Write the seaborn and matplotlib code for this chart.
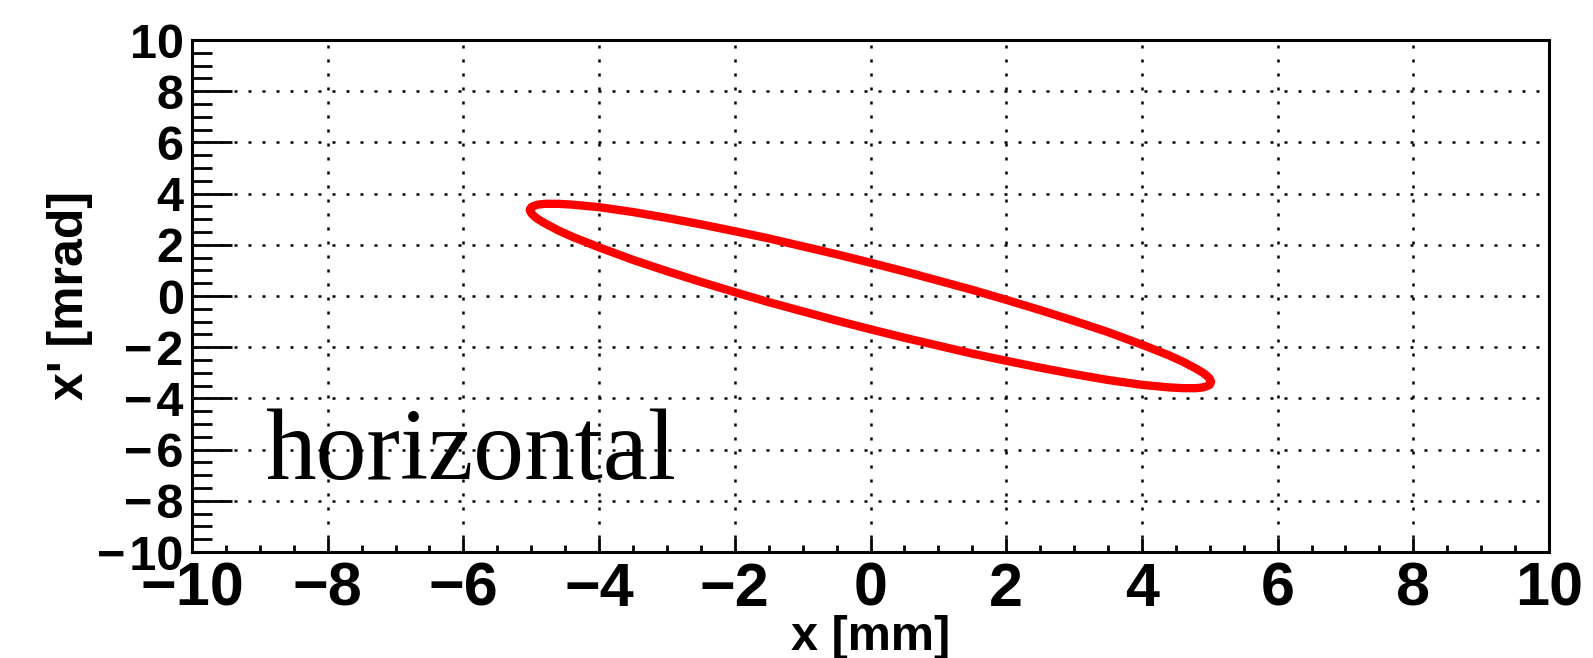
import matplotlib
matplotlib.use("Agg")
import matplotlib.pyplot as plt
import seaborn as sns
import pandas as pd
from matplotlib.ticker import MultipleLocator, FixedLocator, FixedFormatter

# ---- data ----
upper_x = [-5.02, -5.0, -4.95, -4.9, -4.8, -4.6, -4.4, -4.0, -3.5, -3.0, -2.5, -2.0, -1.5, -1.0, -0.5,
           0.0, 0.5, 1.0, 1.5, 2.0, 2.5, 3.0, 3.5, 4.0, 4.4, 4.6, 4.8, 4.9, 4.95, 5.0, 5.02]
upper_xp = [3.36, 3.47, 3.53, 3.57, 3.60, 3.60, 3.57, 3.47, 3.28, 3.05, 2.80, 2.53, 2.25, 1.94, 1.63,
            1.30, 0.96, 0.60, 0.24, -0.15, -0.55, -0.97, -1.41, -1.90, -2.32, -2.56, -2.84, -3.00, -3.10, -3.23, -3.36]
lower_x = [5.0, 4.95, 4.9, 4.8, 4.6, 4.4, 4.0, 3.5, 3.0, 2.5, 2.0, 1.5, 1.0, 0.5, 0.0,
           -0.5, -1.0, -1.5, -2.0, -2.5, -3.0, -3.5, -4.0, -4.4, -4.6, -4.8, -4.9, -4.95, -5.0, -5.02]
lower_xp = [-3.47, -3.53, -3.57, -3.60, -3.60, -3.57, -3.47, -3.28, -3.05, -2.80, -2.53, -2.25, -1.94, -1.63, -1.30,
            -0.96, -0.60, -0.24, 0.15, 0.55, 0.97, 1.41, 1.90, 2.32, 2.56, 2.84, 3.00, 3.10, 3.23, 3.36]

x_ticks = [-10, -8, -6, -4, -2, 0, 2, 4, 6, 8, 10]
x_tick_labels = ["\u221210", "\u22128", "\u22126", "\u22124", "\u22122", "0", "2", "4", "6", "8", "10"]
y_ticks = [-10, -8, -6, -4, -2, 0, 2, 4, 6, 8, 10]
y_tick_labels = ["\u2212\u200a10", "\u2212\u200a8", "\u2212\u200a6", "\u2212\u200a4", "\u2212\u200a2",
                 "0", "2", "4", "6", "8", "10"]
x_label = "x [mm]"
y_label = "x' [mrad]"
plane_label = "horizontal"

# ---- styling ----
sns.set_style("white")
plt.rcParams["font.family"] = ["Liberation Sans", "DejaVu Sans"]
plt.rcParams["axes.unicode_minus"] = True
for key in ["text.color", "axes.labelcolor", "xtick.color", "ytick.color"]:
    plt.rcParams[key] = "black"

fig = plt.figure(figsize=(15.93, 6.58), dpi=100)
ax = fig.add_axes([192 / 1593, 1 - 552 / 658, (1549 - 192) / 1593, (552 - 40) / 658])

df = pd.DataFrame({"x": upper_x + lower_x, "xp": upper_xp + lower_xp})
df["order"] = range(len(df))
sns.lineplot(data=df, x="x", y="xp", sort=False, estimator=None, color="#ff0000",
             linewidth=6.0, ax=ax, solid_joinstyle="round", solid_capstyle="round")

ax.set_xlim(-10, 10)
ax.set_ylim(-10, 10)

ax.xaxis.set_major_locator(FixedLocator(x_ticks))
ax.xaxis.set_major_formatter(FixedFormatter(x_tick_labels))
ax.yaxis.set_major_locator(FixedLocator(y_ticks))
ax.yaxis.set_major_formatter(FixedFormatter(y_tick_labels))
ax.xaxis.set_minor_locator(MultipleLocator(0.5))
ax.yaxis.set_minor_locator(MultipleLocator(0.5))

ax.tick_params(axis="x", which="major", direction="in", length=10, width=2.0, pad=7,
               labelsize=44, top=False, bottom=True, colors="black")
ax.tick_params(axis="x", which="minor", direction="in", length=5, width=2.0, top=False, bottom=True)
ax.tick_params(axis="y", which="major", direction="in", length=29, width=2.0, pad=6,
               labelsize=35, right=False, left=True, colors="black")
ax.tick_params(axis="y", which="minor", direction="in", length=14.5, width=2.0, right=False, left=True)
for lab in ax.get_xticklabels() + ax.get_yticklabels():
    lab.set_fontweight("bold")
    lab.set_color("black")

for sp in ax.spines.values():
    sp.set_visible(True)
    sp.set_linewidth(2.2)
    sp.set_color("black")

ax.grid(True, which="major", color="black", linewidth=1.8, linestyle=(0, (1.2, 4.4)))
ax.set_axisbelow(True)

ax.set_xlabel(x_label, fontsize=35, fontweight="bold", color="black")
ax.xaxis.set_label_coords(0.5, -0.124)
ax.set_ylabel(y_label, fontsize=36, fontweight="bold", color="black")
ax.yaxis.set_label_coords(-0.073, 0.5)

ax.text(-8.92, -7.15, plane_label, fontsize=73, family=["Liberation Serif", "DejaVu Serif"],
        ha="left", va="baseline", color="black")

fig.savefig("out.png", dpi=100)
